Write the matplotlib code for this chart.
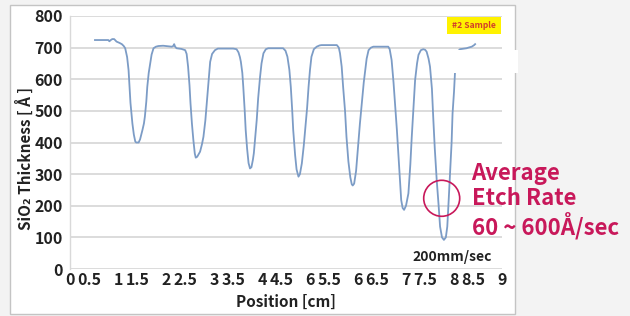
import matplotlib
matplotlib.use("Agg")
import matplotlib.pyplot as plt
from matplotlib.patches import Rectangle, Circle
from matplotlib.transforms import ScaledTranslation

# ---------------- data ----------------
position = [0.52, 0.80, 0.82, 0.85, 0.88, 0.92, 0.97, 1.03, 1.08, 1.12, 1.15, 1.19, 1.22, 1.26, 1.30,
            1.33, 1.36, 1.38, 1.43, 1.46, 1.49, 1.51, 1.54, 1.56, 1.59, 1.61, 1.64, 1.67, 1.70, 1.74,
            1.79, 1.84, 1.94, 2.05, 2.12, 2.15, 2.17, 2.19, 2.22, 2.32, 2.40, 2.43, 2.46, 2.49, 2.51,
            2.54, 2.57, 2.60, 2.62, 2.65, 2.71, 2.75, 2.78, 2.82, 2.85, 2.88, 2.90, 2.92, 2.96, 3.02,
            3.08, 3.125, 3.40, 3.47, 3.51, 3.54, 3.56, 3.59, 3.61, 3.64, 3.66, 3.69, 3.72, 3.75, 3.78,
            3.81, 3.83, 3.86, 3.89, 3.92, 3.96, 3.99, 4.03, 4.08, 4.13, 4.44, 4.49, 4.53, 4.57, 4.60,
            4.63, 4.65, 4.69, 4.72, 4.76, 4.79, 4.83, 4.87, 4.90, 4.94, 4.97, 5.00, 5.03, 5.08, 5.14,
            5.20, 5.24, 5.56, 5.60, 5.625, 5.66, 5.69, 5.73, 5.76, 5.80, 5.84, 5.87, 5.89, 5.92, 5.96,
            6.00, 6.04, 6.08, 6.12, 6.15, 6.18, 6.22, 6.27, 6.32, 6.63, 6.66, 6.70, 6.74, 6.77, 6.81,
            6.84, 6.87, 6.90, 6.93, 6.96, 7.00, 7.05, 7.09, 7.12, 7.16, 7.19, 7.23, 7.26, 7.31, 7.36,
            7.40, 7.43, 7.47, 7.50, 7.54, 7.57, 7.60, 7.64, 7.68, 7.71, 7.75, 7.79, 7.83, 7.86, 7.89,
            7.92, 7.95, 7.97, 8.00, 8.02, 8.05, 8.08, 8.125, 8.26, 8.30, 8.37, 8.42, 8.44]
thickness = [724, 724, 720, 724, 727, 727, 719, 715, 711, 705, 698, 670, 629, 525, 460,
             425, 403, 400, 400, 410, 428, 440, 460, 482, 530, 576, 620, 650, 678, 698,
             703, 705, 706, 704, 703, 705, 711, 703, 698, 696, 692, 680, 640, 580, 525,
             460, 408, 365, 352, 355, 371, 395, 418, 470, 525, 580, 620, 655, 680, 692,
             697, 697, 697, 695, 685, 670, 655, 620, 576, 500, 440, 380, 335, 318, 322,
             345, 366, 420, 471, 540, 608, 650, 682, 695, 698, 698, 690, 671, 630, 576,
             500, 440, 360, 315, 292, 300, 334, 390, 440, 510, 576, 630, 671, 695, 703,
             707, 708, 708, 700, 682, 640, 576, 500, 418, 340, 290, 268, 264, 270, 310,
             387, 460, 525, 590, 629, 665, 692, 700, 703, 703, 695, 661, 590, 525, 440,
             366, 290, 218, 193, 187, 200, 239, 330, 418, 520, 598, 650, 677, 692, 695,
             693, 687, 665, 640, 570, 471, 380, 281, 200, 134, 100, 92, 100, 134, 220,
             313, 400, 492, 560, 619, 665, 688, 695, 698, 700, 703, 708, 711]

x_ticks = [0, 0.5, 1, 1.5, 2, 2.5, 3, 3.5, 4, 4.5, 5, 5.5, 6, 6.5, 7, 7.5, 8, 8.5, 9]
x_tick_labels = ["0", "0.5", "1", "1.5", "2", "2.5", "3", "3.5", "4", "4.5", "6", "5.5",
                 "6", "6.5", "7", "7.5", "8", "8.5", "9"]
y_ticks = [0, 100, 200, 300, 400, 500, 600, 700, 800]

FONT = ["Noto Sans CJK JP", "DejaVu Sans"]
plt.rcParams["font.family"] = FONT

W, H = 630, 316
fig = plt.figure(figsize=(W / 100, H / 100), dpi=100, facecolor="#f3f3f3")

def fx(px):
    return px / W

def fy(py):
    return 1 - py / H

# white chart panel
fig.add_artist(Rectangle((fx(10), fy(314)), fx(515) - fx(10), fy(5) - fy(314),
                         transform=fig.transFigure, facecolor="white",
                         edgecolor="#c4c4c4", lw=1.0, zorder=-5))

ax = fig.add_axes([fx(70), fy(269), fx(502) - fx(70), fy(16) - fy(269)])
ax.set_facecolor("none")
ax.plot(position, thickness, color="#7c9cc6", lw=1.3, zorder=3)
ax.set_xlim(0, 9)
ax.set_ylim(0, 800)
ax.set_yticks(y_ticks)
ax.set_yticklabels([str(v) for v in y_ticks], fontsize=11.5, fontweight="bold", color="#222222")
ax.set_xticks(x_ticks)
ax.set_xticklabels(x_tick_labels, fontsize=11.5, fontweight="bold", color="#222222")
ax.tick_params(axis="both", length=0)
ax.tick_params(axis="y", pad=5)
ax.tick_params(axis="x", pad=2)
for lbl, v in zip(ax.get_xticklabels(), x_ticks):
    if v % 1:
        lbl.set_transform(lbl.get_transform() + ScaledTranslation(-4.5 / 100, 0, fig.dpi_scale_trans))
ax.grid(axis="y", color="#d9d9d9", lw=1.3)
ax.set_axisbelow(True)
for s in ["top", "right", "bottom"]:
    ax.spines[s].set_visible(False)
ax.spines["left"].set_color("#d9d9d9")
ax.spines["left"].set_linewidth(1.0)
ax.set_xlabel("Position [cm]", fontsize=11, fontweight="bold", color="#222222", labelpad=4)

fig.text(fx(25), fy(158), "SiO₂ Thickness [ Å ]", rotation=90, ha="center", va="center",
         fontsize=11, fontweight="bold", color="#222222")

# white patch covering part of the chart
fig.add_artist(Rectangle((fx(453), fy(73)), fx(518) - fx(453), fy(50) - fy(73),
                         transform=fig.transFigure, facecolor="white", edgecolor="none", zorder=10))

# "#2 Sample" tag
fig.add_artist(Rectangle((fx(447), fy(34)), fx(501) - fx(447), fy(17) - fy(34),
                         transform=fig.transFigure, facecolor="#fff200", edgecolor="none", zorder=10))
fig.text(fx(474), fy(25.5), "#2 Sample", ha="center", va="center", fontsize=6.2,
         fontweight="bold", color="#d2402a", zorder=11)

fig.text(fx(452.7), fy(261), "200mm/sec", ha="center", va="baseline", fontsize=10,
         fontweight="bold", color="#222222")

# circle highlight
fig.add_artist(Circle((441.7 / 100, (H - 198.3) / 100), 0.18, transform=fig.dpi_scale_trans,
                      facecolor="none", edgecolor="#c8185a", lw=1.2, zorder=11))

fig.text(fx(471.5), fy(162), "Average\nEtch Rate\n60 ~ 600Å/sec", ha="left", va="top",
         fontsize=16, fontweight="bold", color="#c8185a", linespacing=1.13, zorder=12)

fig.savefig("out.png", dpi=100, facecolor=fig.get_facecolor())
